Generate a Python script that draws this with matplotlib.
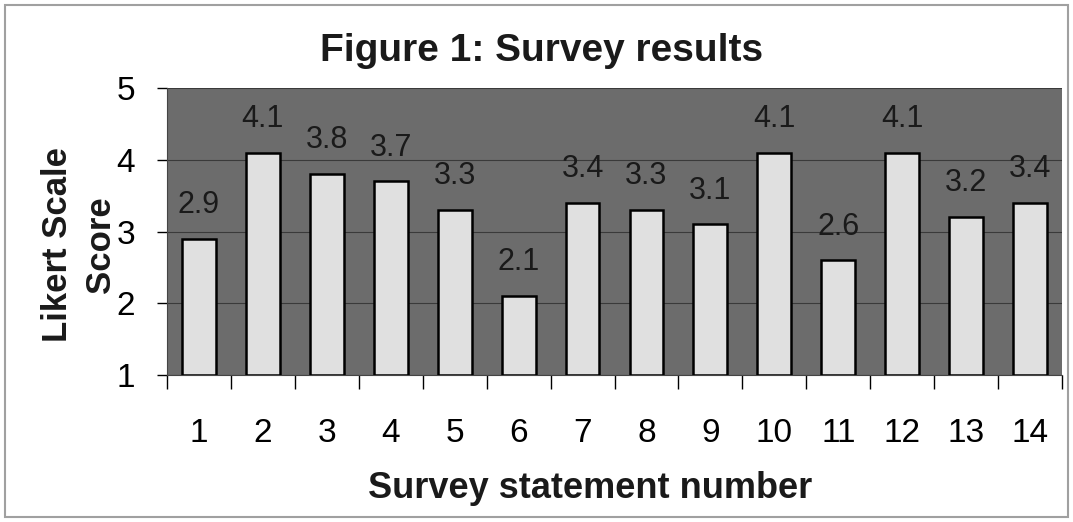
import matplotlib.pyplot as plt
from matplotlib.patches import Rectangle

# Survey statement numbers and their mean Likert scores
statements = [str(i) for i in range(1, 15)]
scores = [2.9, 4.1, 3.8, 3.7, 3.3, 2.1, 3.4, 3.3, 3.1, 4.1, 2.6, 4.1, 3.2, 3.4]
y_ticks = [1, 2, 3, 4, 5]

plt.rcParams['font.family'] = ['Liberation Sans', 'DejaVu Sans']

fig = plt.figure(figsize=(10.73, 5.22), dpi=100)
ax = fig.add_axes([167 / 1073, 1 - 375 / 522, (1062 - 167) / 1073, (375 - 88) / 522])

# light frame around the whole chart
fig.patches.append(Rectangle((5 / 1073, 5 / 522), 1063 / 1073, 512 / 522,
                             transform=fig.transFigure, fill=False,
                             edgecolor='#a0a0a0', linewidth=1.5))

ax.set_facecolor('#6c6c6c')
x = list(range(len(statements)))
ax.bar(x, [s - 1 for s in scores], bottom=1, width=0.53,
       color='#e0e0e0', edgecolor='black', linewidth=1.8, zorder=3)

for xi, s in zip(x, scores):
    ax.text(xi, s + 0.26, f"{s:.1f}", ha='center', va='bottom', fontsize=22,
            color='#1a1a1a', zorder=4)

ax.set_xlim(-0.5, len(statements) - 0.5)
ax.set_ylim(1, 5)
ax.set_yticks(y_ticks)
ax.set_yticklabels([str(t) for t in y_ticks], fontsize=24)
ax.set_xticks(x)
ax.set_xticklabels(statements, fontsize=24)
ax.set_xticks([i - 0.5 for i in range(len(statements) + 1)], minor=True)
ax.tick_params(axis='x', which='major', length=0, pad=31)
ax.tick_params(axis='x', which='minor', length=10, width=1, direction='out')
ax.tick_params(axis='y', length=7, width=1, direction='out', pad=16)

ax.grid(axis='y', color='#3a3a3a', linewidth=0.8, zorder=1)
for side in ['top', 'right']:
    ax.spines[side].set_visible(False)
ax.spines['left'].set_color('#444444')
ax.spines['bottom'].set_color('#444444')

fig.text(542 / 1073, 1 - 51 / 522, "Figure 1: Survey results", ha='center', va='center',
         fontsize=28, fontweight='bold', color='#1a1a1a')
fig.text(79 / 1073, 1 - 245 / 522, "Likert Scale\nScore", ha='center', va='center',
         rotation=90, fontsize=25, fontweight='bold', color='#1a1a1a', linespacing=1.4)
fig.text(590 / 1073, 1 - 489 / 522, "Survey statement number", ha='center', va='center',
         fontsize=26, fontweight='bold', color='#1a1a1a')

fig.savefig('out.png', dpi=100)
